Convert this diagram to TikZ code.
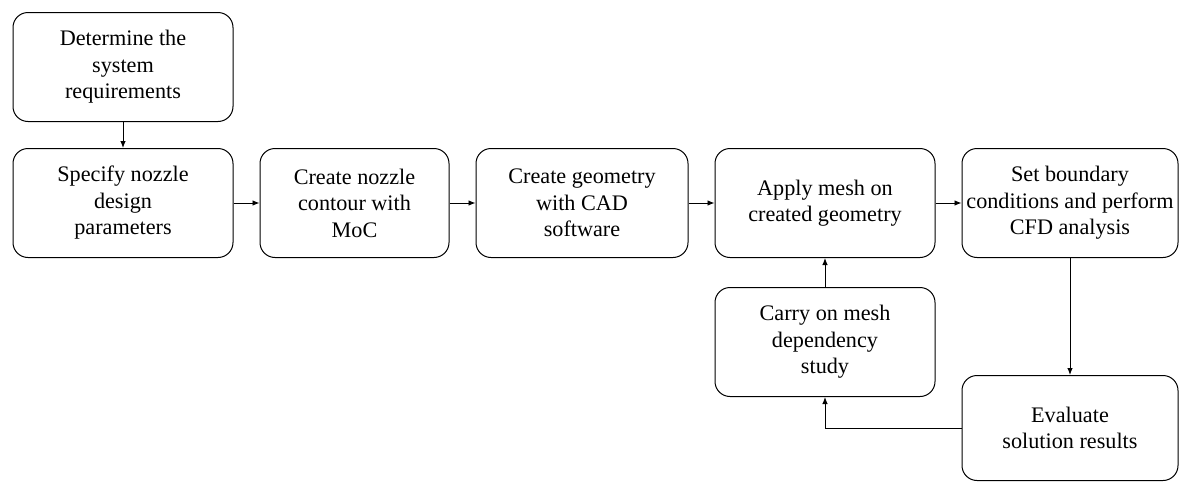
\documentclass[tikz,border=0pt]{standalone}
\usepackage{fontspec}
\setmainfont{Liberation Serif}
\usetikzlibrary{positioning,arrows.meta}

\begin{document}
\begin{tikzpicture}[
  node distance=26pt and 26pt,
  every node/.style={font=\fontsize{22.2}{26.5}\selectfont},
  box/.style={rectangle,rounded corners=15pt,draw,minimum height=109pt,align=center,line width=1pt,inner sep=2pt},
  arr/.style={-{Latex[length=7pt,width=5.5pt]},line width=0.9pt}
]
\useasboundingbox (0,0) rectangle (1179pt,-482pt);

\node[box,minimum width=220pt] (requirements) at (123pt,-67pt) {Determine the\\system\\requirements};
\node[box,minimum width=220pt,below=of requirements] (parameters) {Specify nozzle\\design\\parameters};
\node[box,minimum width=189pt,right=of parameters] (contour) {Create nozzle\\contour with\\MoC};
\node[box,minimum width=212pt,right=of contour] (geometry) {Create geometry\\with CAD\\software};
\node[box,minimum width=220pt,right=of geometry] (mesh) {Apply mesh on\\created geometry};
\node[box,minimum width=216pt,right=of mesh] (cfd) {Set boundary\\conditions and perform\\CFD analysis};
\node[box,minimum width=220pt,below=29pt of mesh] (study) {Carry on mesh\\dependency\\study};
\node[box,minimum width=216pt,minimum height=105pt,below=117pt of cfd] (evaluate) {Evaluate\\solution results};

\draw[arr] (requirements) -- (parameters);
\draw[arr] (parameters) -- (contour);
\draw[arr] (contour) -- (geometry);
\draw[arr] (geometry) -- (mesh);
\draw[arr] (mesh) -- (cfd);
\draw[arr] (cfd) -- (evaluate);
\draw[arr] (evaluate.west) -| (study.south);
\draw[arr] (study) -- (mesh);
\end{tikzpicture}
\end{document}
